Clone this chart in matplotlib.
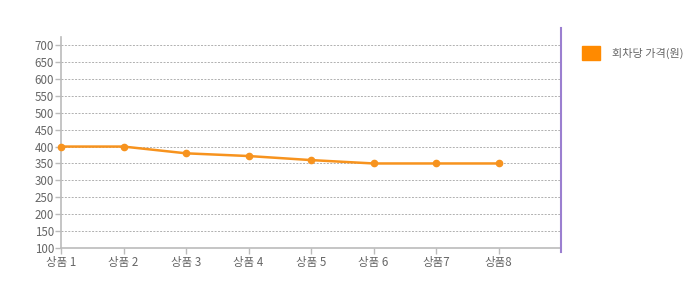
import matplotlib.pyplot as plt
from matplotlib.lines import Line2D
from matplotlib.patches import Rectangle

plt.rcParams['font.family'] = ['Noto Sans CJK KR', 'DejaVu Sans']

products = ['상품 1', '상품 2', '상품 3', '상품 4', '상품 5', '상품 6', '상품7', '상품8']
prices = [400, 400, 380, 372, 360, 350, 350, 350]
yticks = list(range(100, 701, 50))
series_name = '회차당 가격(원)'

orange = '#f7931e'
grey_text = '#666666'
axis_grey = '#bbbbbb'

fig = plt.figure(figsize=(6.93, 3.08), dpi=100)
ax = fig.add_axes([61 / 693, 60 / 308, 500 / 693, 211 / 308])

xs = list(range(len(products)))
ax.plot(xs, prices, color=orange, lw=1.8, marker='o', ms=4.5, zorder=3, clip_on=False)

ax.set_xlim(0, 8)
ax.set_ylim(100, 724)
ax.set_xticks(xs)
ax.set_xticklabels(products)
ax.set_yticks(yticks)

ax.grid(axis='y', color='#b0b0b0', ls=(0, (2, 1.5)), lw=0.7)
ax.set_axisbelow(True)

for s in ['top', 'right']:
    ax.spines[s].set_visible(False)
ax.spines['left'].set_color(axis_grey)
ax.spines['bottom'].set_color(axis_grey)
ax.spines['left'].set_linewidth(1.2)
ax.spines['bottom'].set_linewidth(1.2)
ax.tick_params(colors=grey_text, labelsize=8.3, length=4, width=1, pad=1)
ax.tick_params(axis='x', color=axis_grey, pad=2)
ax.tick_params(axis='y', color=axis_grey)

# purple right border
fig.add_artist(Line2D([561 / 693, 561 / 693], [1 - 28 / 308, 1 - 252 / 308],
                      color='#9b7fd0', lw=1.5))

# legend
fig.add_artist(Rectangle((582 / 693, 1 - 60 / 308), 18 / 693, 14 / 308,
                         color='#ff8a00', transform=fig.transFigure))
fig.text(612 / 693, 1 - 53 / 308, series_name, fontsize=8, color=grey_text, va='center')

fig.savefig('out.png', dpi=100, facecolor='white')
